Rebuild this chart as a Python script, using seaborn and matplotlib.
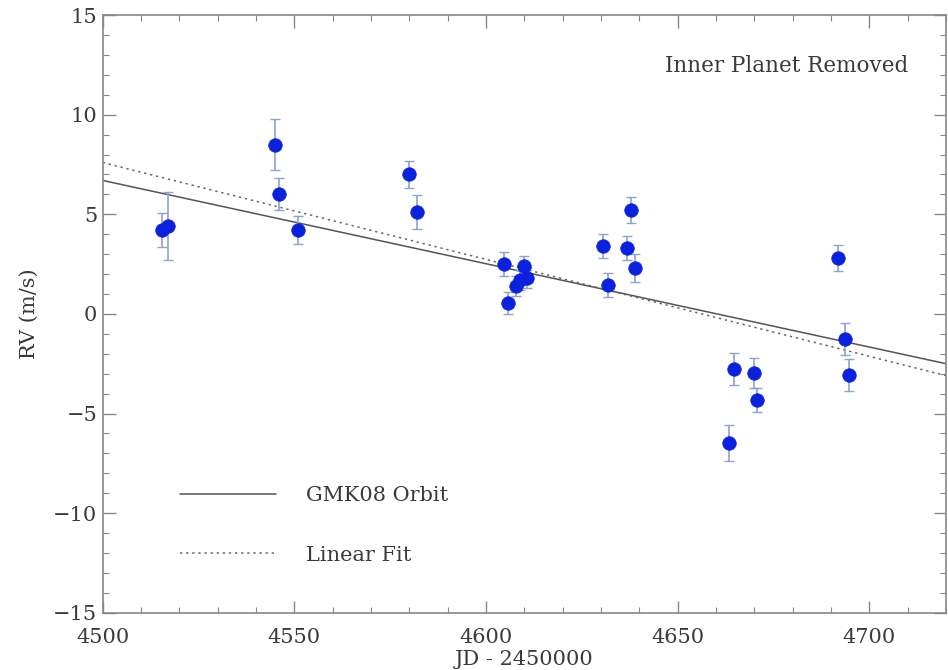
import numpy as np
import pandas as pd
import matplotlib
matplotlib.use("Agg")
import matplotlib.pyplot as plt
import seaborn as sns
from matplotlib.ticker import MultipleLocator

# radial velocities with the inner planet removed
jd = [4515.6, 4517.0, 4545.0, 4545.9, 4550.9, 4580.0, 4581.9,
      4604.7, 4605.7, 4607.7, 4608.8, 4609.9, 4610.8,
      4630.5, 4631.8, 4636.8, 4637.8, 4638.8,
      4663.5, 4664.7, 4669.8, 4670.7, 4691.7, 4693.7, 4694.7]
rv = [4.2, 4.4, 8.5, 6.0, 4.2, 7.0, 5.1,
      2.5, 0.55, 1.4, 1.7, 2.4, 1.8,
      3.4, 1.45, 3.3, 5.2, 2.3,
      -6.5, -2.75, -2.95, -4.3, 2.8, -1.25, -3.05]
rv_err = [0.85, 1.7, 1.3, 0.8, 0.7, 0.7, 0.85,
          0.6, 0.55, 0.5, 0.5, 0.5, 0.5,
          0.6, 0.6, 0.6, 0.65, 0.7,
          0.9, 0.8, 0.75, 0.6, 0.65, 0.8, 0.8]

# model curves
orbit_jd = [4500, 4720]
orbit_rv = [6.7, -2.5]
fit_jd = [4500, 4720]
fit_rv = [7.6, -3.1]

c = pd.DataFrame({"jd": jd, "rv": rv, "err": rv_err})

sns.set_style("ticks")
plt.rcParams["font.family"] = ["DejaVu Serif"]
fs = 15

fig = plt.figure(figsize=(9.48, 6.70), dpi=100)
ax = fig.add_axes([0.1083, 0.0855, 0.8896, 0.892])

sns.lineplot(x=orbit_jd, y=orbit_rv, ax=ax, color="#555555", lw=1.1,
             label="GMK08 Orbit")
sns.lineplot(x=fit_jd, y=fit_rv, ax=ax, color="#666666", lw=1.1,
             linestyle=(0, (1.5, 2.5)), label="Linear Fit")

ax.errorbar(c["jd"], c["rv"], yerr=c["err"], fmt="none", ecolor="#8da2cc",
            elinewidth=1.2, capsize=3.5, capthick=1.0, zorder=3)
sns.scatterplot(data=c, x="jd", y="rv", ax=ax, color="#0a22dd", s=95,
                edgecolor="#0a22dd", linewidth=0.5, zorder=4)

ax.set_xlim(4500, 4720)
ax.set_ylim(-15, 15)
ax.xaxis.set_major_locator(MultipleLocator(50))
ax.xaxis.set_minor_locator(MultipleLocator(10))
ax.yaxis.set_major_locator(MultipleLocator(5))
ax.yaxis.set_minor_locator(MultipleLocator(1))
ax.tick_params(which="both", direction="in", top=True, right=True,
               colors="#888888", labelcolor="#3a3a3a", labelsize=fs)
ax.tick_params(which="major", length=9, width=1)
ax.tick_params(which="minor", length=4.5, width=0.8)
ax.tick_params(axis="x", which="major", pad=11)
ax.tick_params(axis="y", which="major", pad=4)
for s in ax.spines.values():
    s.set_color("#888888")
    s.set_linewidth(1.2)

ax.set_xlabel("JD - 2450000", fontsize=fs, color="#3a3a3a", labelpad=2)
ax.set_ylabel("RV (m/s)", fontsize=fs, color="#3a3a3a", labelpad=10)

ax.text(0.955, 0.915, "Inner Planet Removed", transform=ax.transAxes,
        ha="right", va="center", fontsize=fs + 0.5, color="#3a3a3a")

leg = ax.legend(loc="upper left", bbox_to_anchor=(0.0914, 0.212),
                frameon=False, borderaxespad=0, borderpad=0,
                handlelength=4.6, handletextpad=1.45, labelspacing=1.95,
                fontsize=fs)
for t in leg.get_texts():
    t.set_color("#3a3a3a")

fig.savefig("out.png", dpi=100)
